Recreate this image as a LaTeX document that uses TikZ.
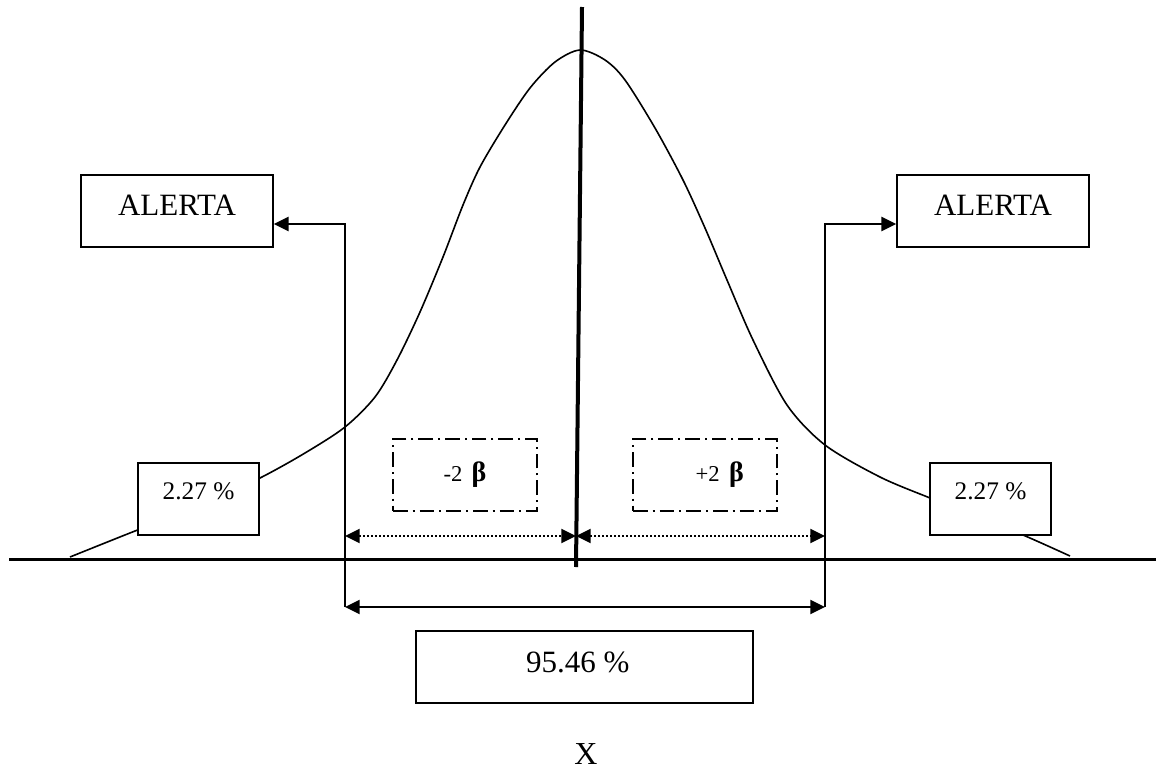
\documentclass[tikz,border=0pt]{standalone}
\usepackage{fontspec}
\setmainfont{Liberation Serif}
\usetikzlibrary{arrows.meta}

\begin{document}
\begin{tikzpicture}[x=0.75pt,y=0.75pt,yscale=-1,xscale=1,
  >={Triangle[length=11pt,width=10.5pt]},
  thinline/.style={line width=1.2pt},
  bracket/.style={line width=1.5pt},
  dots/.style={line width=1.5pt, dash pattern={on 1.2pt off 1.8pt}},
  alertbox/.style={draw, fill=white, line width=1.3pt, inner sep=0pt, minimum width=144pt, minimum height=54pt, font=\fontsize{23.25}{28}\selectfont, text height=15.3pt, text depth=9pt},
  pctbox/.style={draw, fill=white, line width=1.3pt, inner sep=0pt, minimum width=90.75pt, minimum height=54pt, font=\fontsize{19}{23}\selectfont, text height=12.5pt, text depth=12pt},
  totalbox/.style={draw, fill=white, line width=1.3pt, inner sep=0pt, minimum width=252.75pt, minimum height=54pt, font=\fontsize{23.25}{28}\selectfont, text height=15.3pt, text depth=7.5pt},
  sigmabox/.style={draw, line width=1.3pt, dash pattern={on 11pt off 3.75pt on 1.5pt off 3.75pt}, inner sep=0pt, minimum width=108pt, minimum height=54pt, font=\fontsize{17}{20}\selectfont}
]
\path[use as bounding box] (0,0) rectangle (1156,771);

%Curve Lines
\draw[thinline] plot[smooth, tension=0.5] coordinates {(70,557) (135,531) (200,506) (260,478) (305,453) (345,427) (375,397) (397,360) (420,312) (443,257) (463,205) (480,167) (505,125) (530,88) (555,62) (580,50) (605,60) (625,80) (655,128) (683,180) (705,228) (727,280) (753,340) (787,405) (825,445) (880,477) (930,498) (975,516) (1023,535) (1070,556)};

%Straight Lines
\coordinate (axL) at (9,559);
\coordinate (axR) at (1156,559);
\draw[line width=2.25pt] (axL) -- (axR);
%Straight Lines
\coordinate (ctop) at (582,7);
\coordinate (cbot) at (576,567);
\draw[line width=3pt] (ctop) -- (cbot);

%Shape: Rectangle
\node[alertbox] (alertL) at (177,211) {ALERTA};
\node[alertbox] (alertR) at (993,211) {ALERTA};
\node[pctbox] (tailL) at (198.5,499) {2.27 \%};
\node[pctbox] (tailR) at (990.5,499) {2.27 \%};
\node[totalbox] (total) at (584.5,667) {95.46 \%\hspace*{10pt}};
\node[sigmabox] (minus) at (465,475) {-2\hspace{7pt}{\fontsize{21}{24}\selectfont\textbf{β}}};
\node[sigmabox] (plus) at (705,475) {\hspace*{22pt}+2\hspace{7pt}{\fontsize{21}{24}\selectfont\textbf{β}}};

%Straight Lines
\coordinate (lfoot) at (345,607);
\coordinate (rfoot) at (825,607);
\coordinate (lknee) at (345,224);
\coordinate (rknee) at (825,224);
\draw[bracket,->] (lfoot) -- (lknee) -- (lknee -| alertL.east);
\draw[bracket,->] (rfoot) -- (rknee) -- (rknee -| alertR.west);
\draw[bracket,<->] (lfoot) -- (rfoot);

%Straight Lines
\coordinate (ldot) at (345,536);
\coordinate (mdot) at (576,536);
\coordinate (rdot) at (825,536);
\draw[dots,<->] (ldot) -- (mdot);
\draw[dots,<->] (mdot) -- (rdot);

% Text Node
\node[font=\fontsize{24}{28}\selectfont, inner sep=0pt] (xlabel) at (586,754) {X};

\end{tikzpicture}
\end{document}
